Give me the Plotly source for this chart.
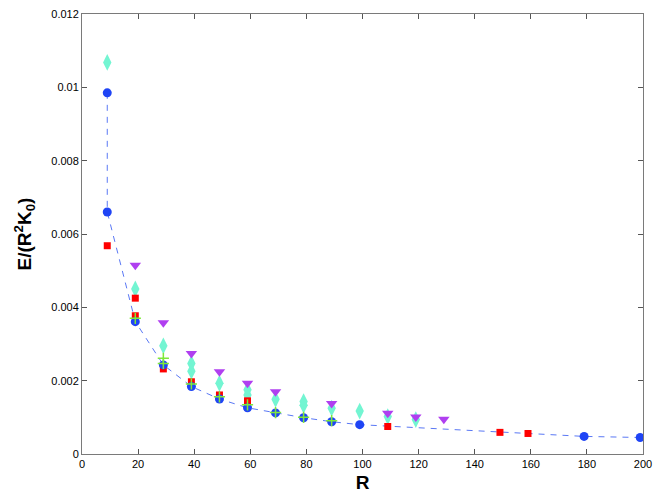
import plotly.graph_objects as go

# Blue circles (with dashed guide line)
blue_R = [9, 9, 19, 29, 39, 49, 59, 69, 79, 89, 99, 179, 199]
blue_E = [0.00985, 0.0066, 0.00361, 0.00243, 0.00184, 0.0015, 0.00126, 0.00112,
          0.00099, 0.00088, 0.00080, 0.00048, 0.00045]

# Red squares
red_R = [9, 19, 19, 29, 39, 49, 59, 59, 109, 149, 159]
red_E = [0.00568, 0.00425, 0.00377, 0.00232, 0.00197, 0.00161, 0.00145, 0.00137,
         0.00075, 0.00059, 0.00056]

# Aquamarine diamonds
aqua_R = [9, 19, 29, 39, 39, 49, 59, 59, 69, 79, 79, 89, 99, 109, 119]
aqua_E = [0.01068, 0.0045, 0.00295, 0.00247, 0.00226, 0.00193, 0.00175, 0.00161,
          0.00149, 0.00143, 0.00133, 0.00125, 0.00117, 0.00102, 0.00094]

# Purple down-triangles
purple_R = [19, 29, 39, 49, 59, 69, 89, 109, 119, 129]
purple_E = [0.00515, 0.00358, 0.00274, 0.00224, 0.00193, 0.0017, 0.00138,
            0.00111, 0.00101, 0.00095]

# Green plus
green_R = [19, 29, 29, 39, 49, 59, 69, 79, 89]
green_E = [0.0037, 0.00261, 0.00247, 0.00191, 0.00156, 0.00134, 0.00113, 0.001, 0.00091]

x_ticks = [0, 20, 40, 60, 80, 100, 120, 140, 160, 180, 200]
y_ticks = [0, 0.002, 0.004, 0.006, 0.008, 0.010, 0.012]
y_ticktext = ["0", "0.002", "0.004", "0.006", "0.008", "0.01", "0.012"]

FONT = "Liberation Sans, Arial, sans-serif"

fig = go.Figure()
fig.add_trace(go.Scatter(x=blue_R, y=blue_E, mode="lines",
                         line=dict(color="#5a78f5", width=1, dash="6px,6px"),
                         showlegend=False, hoverinfo="skip"))
fig.add_trace(go.Scatter(x=aqua_R, y=aqua_E, mode="markers",
                         marker=dict(symbol="diamond-tall", size=12, color="#73f5d2"),
                         showlegend=False))
fig.add_trace(go.Scatter(x=red_R, y=red_E, mode="markers",
                         marker=dict(symbol="square", size=7, color="#ff0000"),
                         showlegend=False))
fig.add_trace(go.Scatter(x=blue_R, y=blue_E, mode="markers",
                         marker=dict(symbol="circle", size=9, color="#1f44f5"),
                         showlegend=False))
fig.add_trace(go.Scatter(x=purple_R, y=purple_E, mode="markers",
                         marker=dict(symbol="triangle-down", size=10, color="#b03ff0"),
                         showlegend=False))
fig.add_trace(go.Scatter(x=green_R, y=green_E, mode="markers",
                         marker=dict(symbol="cross-thin", size=8,
                                     line=dict(color="#7ee83a", width=1.5)),
                         showlegend=False))

axis_common = dict(showgrid=False, zeroline=False, showline=True, linecolor="#7a7a7a",
                   linewidth=1, mirror="ticks", ticks="inside", ticklen=5,
                   tickcolor="#555555", tickwidth=1, automargin=False,
                   tickfont=dict(family=FONT, size=11, color="#000000"))

fig.update_xaxes(range=[0, 200], tickvals=x_ticks,
                 title=dict(text="<b>R</b>", font=dict(family=FONT, size=19, color="#000"),
                            standoff=6),
                 **axis_common)
fig.update_yaxes(range=[0, 0.012], tickvals=y_ticks, ticktext=y_ticktext,
                 title=dict(text="<b>E/(R<sup>2</sup>K<sub>0</sub>)</b>",
                            font=dict(family=FONT, size=19, color="#000"), standoff=14),
                 **axis_common)

fig.update_layout(width=659, height=498, plot_bgcolor="white", paper_bgcolor="white",
                  margin=dict(l=82, r=16, t=14, b=44), showlegend=False)

fig.write_html("out.html", config={"displayModeBar": False},
               post_script="document.body.style.margin='0';document.body.style.overflow='hidden';")
